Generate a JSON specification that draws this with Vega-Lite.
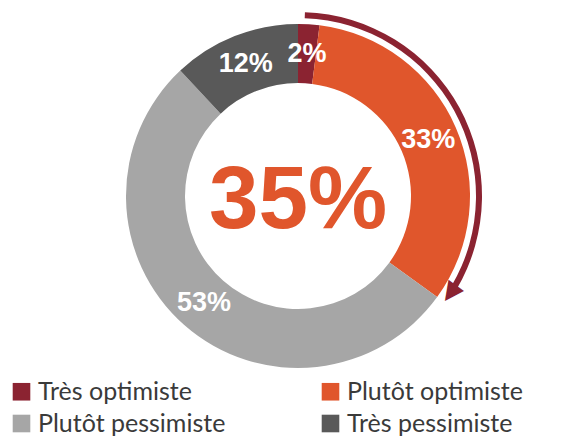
{
  "$schema": "https://vega.github.io/schema/vega-lite/v6.json",
  "width": 574,
  "height": 392,
  "autosize": {"type": "none"},
  "padding": {"left": 11, "top": 0, "right": 0, "bottom": 44},
  "background": "white",
  "config": {"view": {"stroke": null}},
  "datasets": {
    "slices": [
      {"cat": "Très optimiste", "pct": 2, "label": "2%", "ord": 1},
      {"cat": "Plutôt optimiste", "pct": 33, "label": "33%", "ord": 2},
      {"cat": "Plutôt pessimiste", "pct": 53, "label": "53%", "ord": 3},
      {"cat": "Très pessimiste", "pct": 12, "label": "12%", "ord": 4}
    ],
    "arrow": [{"from": 0.6, "to": 33.5, "head": 33.9, "sym": "▼"}],
    "center": [{"total": "35%"}]
  },
  "layer": [
    {
      "data": {"name": "slices"},
      "mark": {"type": "arc", "radius": 172, "innerRadius": 113},
      "encoding": {
        "theta": {"field": "pct", "type": "quantitative", "stack": true, "scale": {"domain": [0, 100]}},
        "order": {"field": "ord", "type": "quantitative"},
        "color": {
          "field": "cat",
          "type": "nominal",
          "scale": {
            "domain": ["Très optimiste", "Plutôt optimiste", "Plutôt pessimiste", "Très pessimiste"],
            "range": ["#8B2331", "#E0562C", "#A6A6A6", "#595959"]
          },
          "legend": {
            "title": null,
            "orient": "none",
            "direction": "horizontal",
            "legendX": -2,
            "legendY": 379,
            "columns": 2,
            "columnPadding": 92,
            "rowPadding": 6,
            "padding": 0,
            "symbolType": "square",
            "symbolSize": 310,
            "symbolStrokeWidth": 0,
            "labelFont": "Lato",
            "labelFontSize": 25,
            "labelColor": "#3a3a3a",
            "labelOffset": 4,
            "labelLimit": 400
          }
        }
      }
    },
    {
      "data": {"name": "slices"},
      "mark": {"type": "text", "radius": 142, "font": "Liberation Sans", "fontWeight": "bold", "fontSize": 27, "color": "white", "align": "center", "baseline": "middle"},
      "encoding": {
        "theta": {"field": "pct", "type": "quantitative", "stack": true},
        "order": {"field": "ord", "type": "quantitative"},
        "detail": {"field": "cat", "type": "nominal"},
        "text": {"field": "label", "type": "nominal"}
      }
    },
    {
      "data": {"name": "arrow"},
      "mark": {"type": "arc", "radius": 184, "innerRadius": 178, "color": "#8B2331"},
      "encoding": {
        "theta": {"field": "from", "type": "quantitative"},
        "theta2": {"field": "to"}
      }
    },
    {
      "data": {"name": "arrow"},
      "mark": {"type": "text", "radius": 181, "angle": 36, "fontSize": 25, "font": "DejaVu Sans", "color": "#8B2331", "align": "center", "baseline": "middle"},
      "encoding": {
        "theta": {"field": "head", "type": "quantitative"},
        "text": {"field": "sym", "type": "nominal"}
      }
    },
    {
      "data": {"name": "center"},
      "mark": {"type": "text", "fontSize": 89, "fontWeight": "bold", "font": "Liberation Sans", "color": "#E0562C", "align": "center", "baseline": "alphabetic", "dy": 32},
      "encoding": {
        "text": {"field": "total", "type": "nominal"}
      }
    }
  ]
}
